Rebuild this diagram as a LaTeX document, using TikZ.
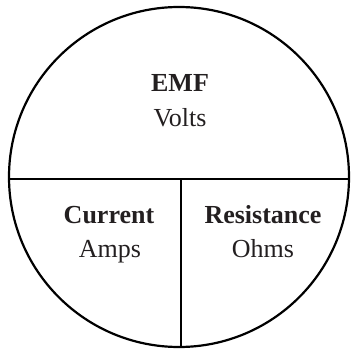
\documentclass[tikz,border=0pt]{standalone}
\usepackage{fontspec}
\setmainfont{Liberation Serif}
\definecolor{ink}{HTML}{231F20}
\begin{document}
\begin{tikzpicture}[x=1pt,y=-1pt,
  lbl/.style={anchor=base,text=ink,font=\fontsize{26}{30}\selectfont,inner sep=0pt},
  hd/.style={lbl,font=\fontsize{26}{30}\selectfont\bfseries},
  ln/.style={line width=2.2pt,draw=black}]
\useasboundingbox (0,0) rectangle (351,350);
\coordinate (c) at (179,177);
\draw[ln] (c) circle[radius=170];
\coordinate (hl) at (9,179);
\coordinate (hr) at (349,179);
\coordinate (vt) at (181,179);
\coordinate (vb) at (181,347);
\draw[ln] (hl) -- (hr);
\draw[ln] (vt) -- (vb);
\node[hd] (emf) at (180,92) {EMF};
\node[lbl] (volts) at (180,127) {Volts};
\node[hd] (cur) at (109,223) {Current};
\node[lbl] (amps) at (110,257) {Amps};
\node[hd] (res) at (263,223) {Resistance};
\node[lbl] (ohms) at (263,257) {Ohms};
\end{tikzpicture}
\end{document}
